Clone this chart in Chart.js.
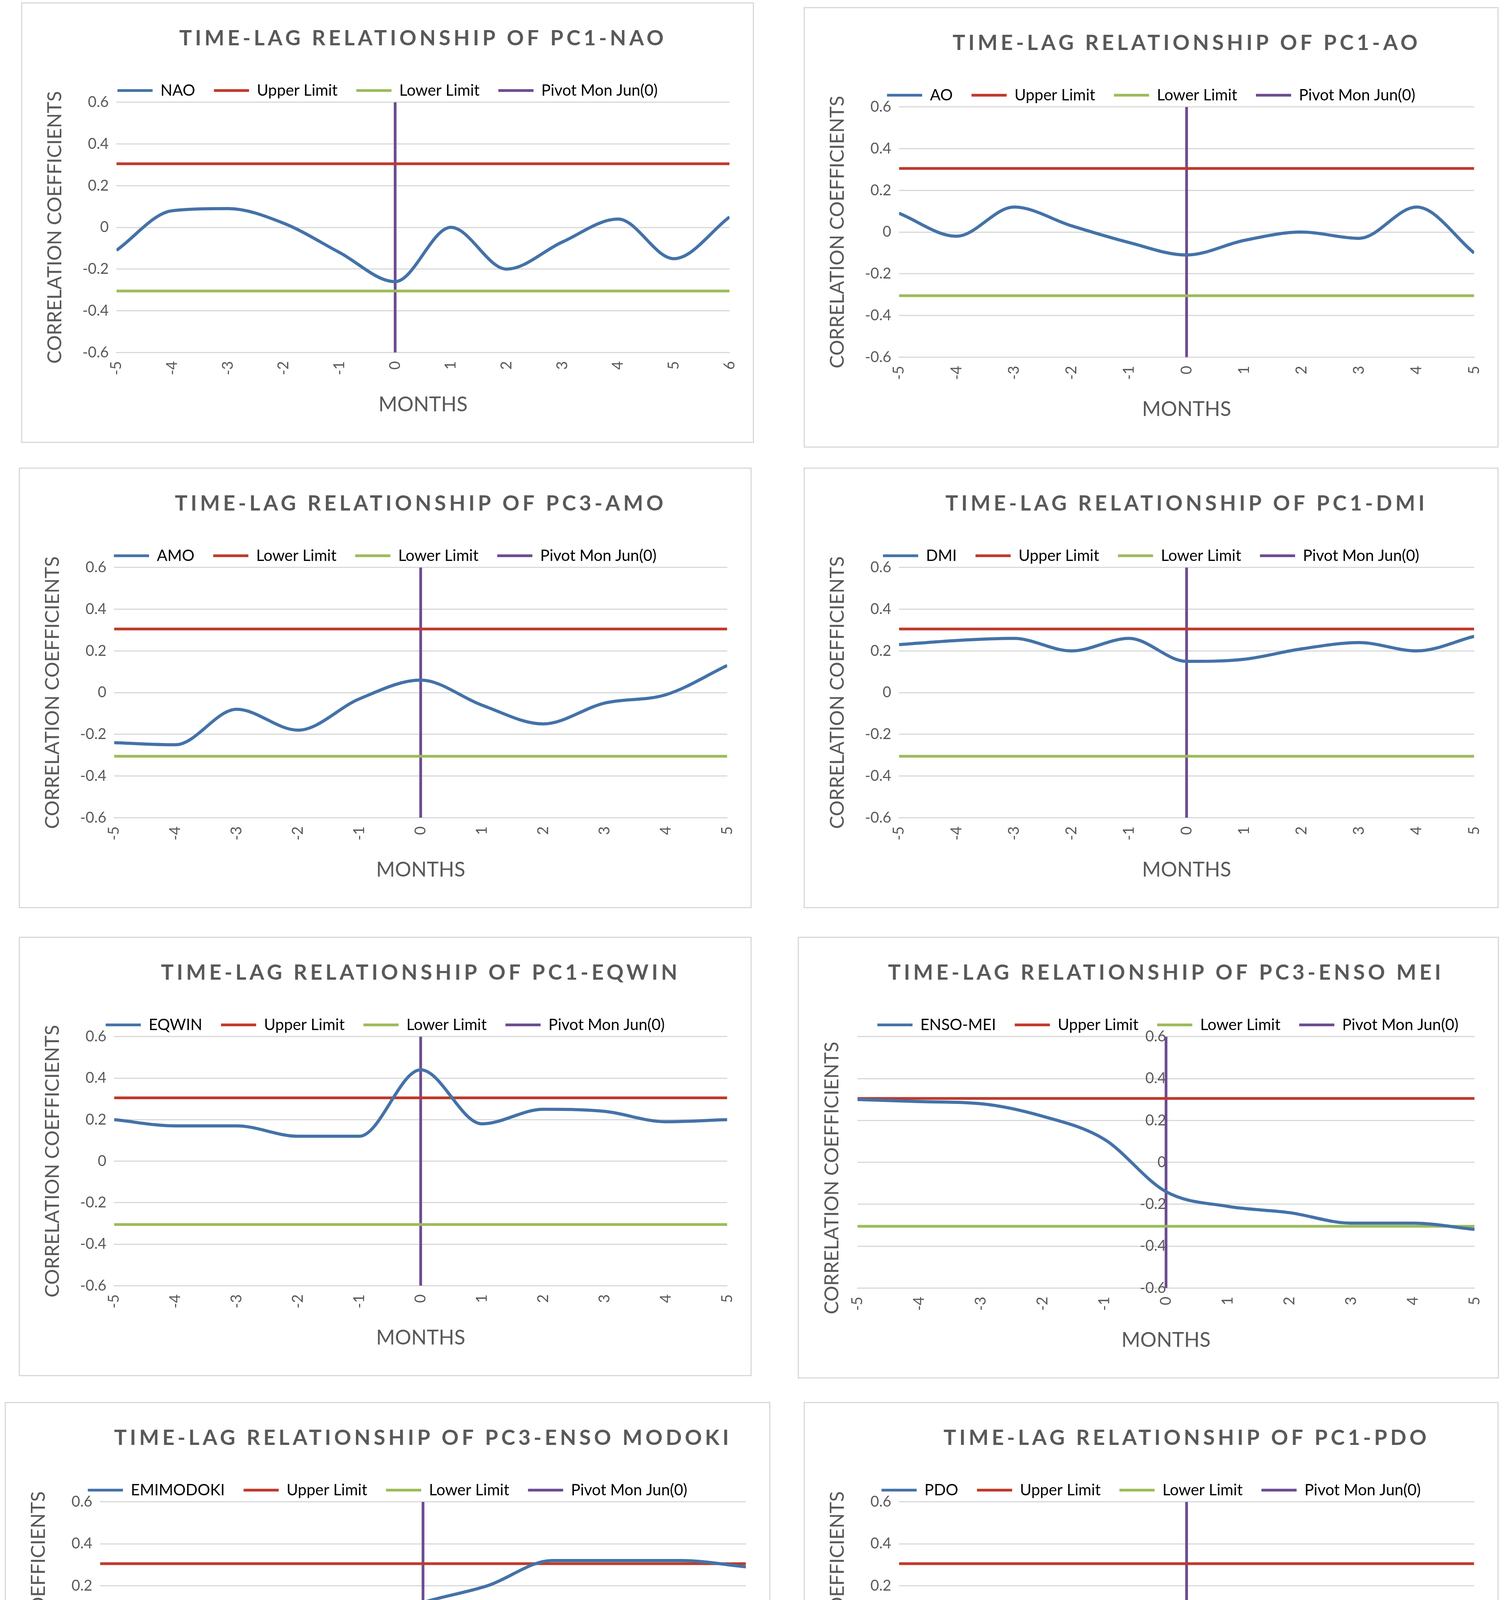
<!DOCTYPE html>
<html><head><meta charset="utf-8">
<script src="https://cdn.jsdelivr.net/npm/chart.js@4.4.1/dist/chart.umd.min.js"></script>
<style>
body{margin:0;background:#fff;width:3860px;height:4750px;position:relative;font-family:Lato,"Liberation Sans",sans-serif;overflow:hidden}
.p{position:absolute;border:3px solid #d9d9d9;box-sizing:border-box;background:#fff}
.p canvas{position:absolute;left:0;top:0}
</style></head><body>
<script>
const months11 = [-5,-4,-3,-2,-1,0,1,2,3,4,5];
const months12 = [-5,-4,-3,-2,-1,0,1,2,3,4,5,6];
const naoValues = [-0.11,0.08,0.09,0.02,-0.12,-0.26,0.0,-0.20,-0.07,0.04,-0.15,0.05];
const aoValues = [0.09,-0.02,0.12,0.03,-0.05,-0.11,-0.04,0.0,-0.03,0.12,-0.10];
const amoValues = [-0.24,-0.25,-0.08,-0.18,-0.03,0.06,-0.06,-0.15,-0.05,-0.01,0.13];
const dmiValues = [0.23,0.25,0.26,0.20,0.26,0.15,0.16,0.21,0.24,0.20,0.27];
const eqwinValues = [0.20,0.17,0.17,0.12,0.12,0.44,0.18,0.25,0.24,0.19,0.20];
const ensoMeiValues = [0.30,0.29,0.28,0.22,0.11,-0.14,-0.21,-0.24,-0.29,-0.29,-0.32];
const modokiValues = [-0.34,-0.25,-0.13,-0.08,0.01,0.12,0.20,0.32,0.32,0.32,0.29];
const pdoValues = [-0.32,-0.29,-0.24,-0.26,-0.30,-0.31,-0.17,-0.14,-0.13,-0.13,-0.06];
const upperLimit = 0.305, lowerLimit = -0.305, pivotMonth = 0;
const yTicks = [-0.6,-0.4,-0.2,0,0.2,0.4,0.6];

const S = 3.016;
const panels = [
 {box:[18,2,622,374], title:"TIME-LAG RELATIONSHIP OF PC1-NAO", name:"NAO", up:"Upper Limit", x:months12, y:naoValues},
 {box:[682,6,590,374], title:"TIME-LAG RELATIONSHIP OF PC1-AO", name:"AO", up:"Upper Limit", x:months11, y:aoValues},
 {box:[16,397,622,374], title:"TIME-LAG RELATIONSHIP OF PC3-AMO", name:"AMO", up:"Lower Limit", x:months11, y:amoValues},
 {box:[682,397,590,374], title:"TIME-LAG RELATIONSHIP OF PC1-DMI", name:"DMI", up:"Upper Limit", x:months11, y:dmiValues},
 {box:[16,795,622,373], title:"TIME-LAG RELATIONSHIP OF PC1-EQWIN", name:"EQWIN", up:"Upper Limit", x:months11, y:eqwinValues},
 {box:[677,795,595,375], title:"TIME-LAG RELATIONSHIP OF PC3-ENSO MEI", name:"ENSO-MEI", up:"Upper Limit", x:months11, y:ensoMeiValues, center:true},
 {box:[4,1190,650,375], title:"TIME-LAG RELATIONSHIP OF PC3-ENSO MODOKI", name:"EMIMODOKI", up:"Upper Limit", x:months11, y:modokiValues},
 {box:[682,1190,590,375], title:"TIME-LAG RELATIONSHIP OF PC1-PDO", name:"PDO", up:"Upper Limit", x:months11, y:pdoValues},
];
const FONT = 'Lato, "Liberation Sans", sans-serif';
const grey = '#595959';
const titleFont = 'bold 54px '+FONT;
panels.forEach(p=>{
  const d=document.createElement('div'); d.className='p';
  const [x,y,w,h]=p.box.map(v=>Math.round(v*S));
  Object.assign(d.style,{left:x+'px',top:y+'px',width:w+'px',height:h+'px'});
  const c=document.createElement('canvas'); c.width=w-6; c.height=h-6;
  c.style.width=(w-6)+'px'; c.style.height=(h-6)+'px';
  d.appendChild(c); document.body.appendChild(d);
  const xmin=p.x[0], xmax=p.x[p.x.length-1];
  const spacedTitle = {id:'spacedTitle',afterDraw(ch){
    const g=ch.ctx; const t=ch.titleBlock; g.save(); g.font=titleFont; g.fillStyle=grey;
    g.letterSpacing='8px'; g.textAlign='center'; g.textBaseline='middle';
    g.fillText(p.title,(ch.chartArea.left+ch.chartArea.right)/2,t.top+t.height/2); g.restore();}};
  const yTitle = {id:'ytitle',afterDraw(ch){const g=ch.ctx;g.save();g.fillStyle=grey;g.font='50px '+FONT;g.translate(85,(ch.chartArea.top+ch.chartArea.bottom)/2+40);g.rotate(-Math.PI/2);g.textAlign='center';g.textBaseline='middle';g.fillText('CORRELATION COEFFICIENTS',0,0);g.restore();}};
  new Chart(c,{type:'line',data:{datasets:[
    {label:p.name,data:p.x.map((m,i)=>({x:m,y:p.y[i]})),borderColor:'#4472a8',borderWidth:8,tension:0.4,cubicInterpolationMode:'monotone',pointRadius:0},
    {label:p.up,data:[{x:xmin,y:upperLimit},{x:xmax,y:upperLimit}],borderColor:'#c0392b',borderWidth:7,pointRadius:0},
    {label:'Lower Limit',data:[{x:xmin,y:lowerLimit},{x:xmax,y:lowerLimit}],borderColor:'#9bbb59',borderWidth:7,pointRadius:0},
    {label:'Pivot Mon Jun(0)',data:[{x:pivotMonth,y:-0.6},{x:pivotMonth,y:0.6}],borderColor:'#6b4c8f',borderWidth:7,pointRadius:0},
  ]},options:{responsive:false,animation:false,devicePixelRatio:1,
    layout:{padding:{left:p.center?150:50,right:50,top:25,bottom:60}},
    plugins:{title:{display:true,text:p.title,color:'rgba(0,0,0,0)',font:{family:FONT,size:54,weight:'bold'},padding:{top:25,bottom:40}},
      legend:{labels:{boxWidth:90,boxHeight:7,color:grey,font:{family:FONT,size:40},padding:48,
        generateLabels:ch=>ch.data.datasets.map((ds,i)=>({text:ds.label,fillStyle:ds.borderColor,strokeStyle:ds.borderColor,lineWidth:0,datasetIndex:i}))}},
      tooltip:{enabled:false}},
    scales:{
      x:{type:'linear',min:xmin,max:xmax,ticks:{stepSize:1,maxRotation:90,minRotation:90,color:grey,font:{family:FONT,size:38},padding:14},
        grid:{display:false},border:{color:'#d9d9d9',width:3},
        title:{display:true,text:'MONTHS',color:grey,font:{family:FONT,size:52},padding:{top:30}}},
      y:{min:-0.6,max:0.6,position:p.center?{x:0}:'left',
        afterBuildTicks:ax=>{ax.ticks=yTicks.map(v=>({value:v}));},
        ticks:{color:grey,font:{family:FONT,size:38},mirror:!!p.center,padding:p.center?30:20,callback:v=>String(Math.round(v*10)/10)},
        grid:{color:'#d9d9d9',lineWidth:3,drawTicks:false},border:{display:false},
        title:{display:!p.center,text:'CORRELATION COEFFICIENTS',color:grey,font:{family:FONT,size:50},padding:{bottom:20}}}
    }},
    plugins: p.center ? [spacedTitle,yTitle] : [spacedTitle]
  });
});
</script>
</body></html>
